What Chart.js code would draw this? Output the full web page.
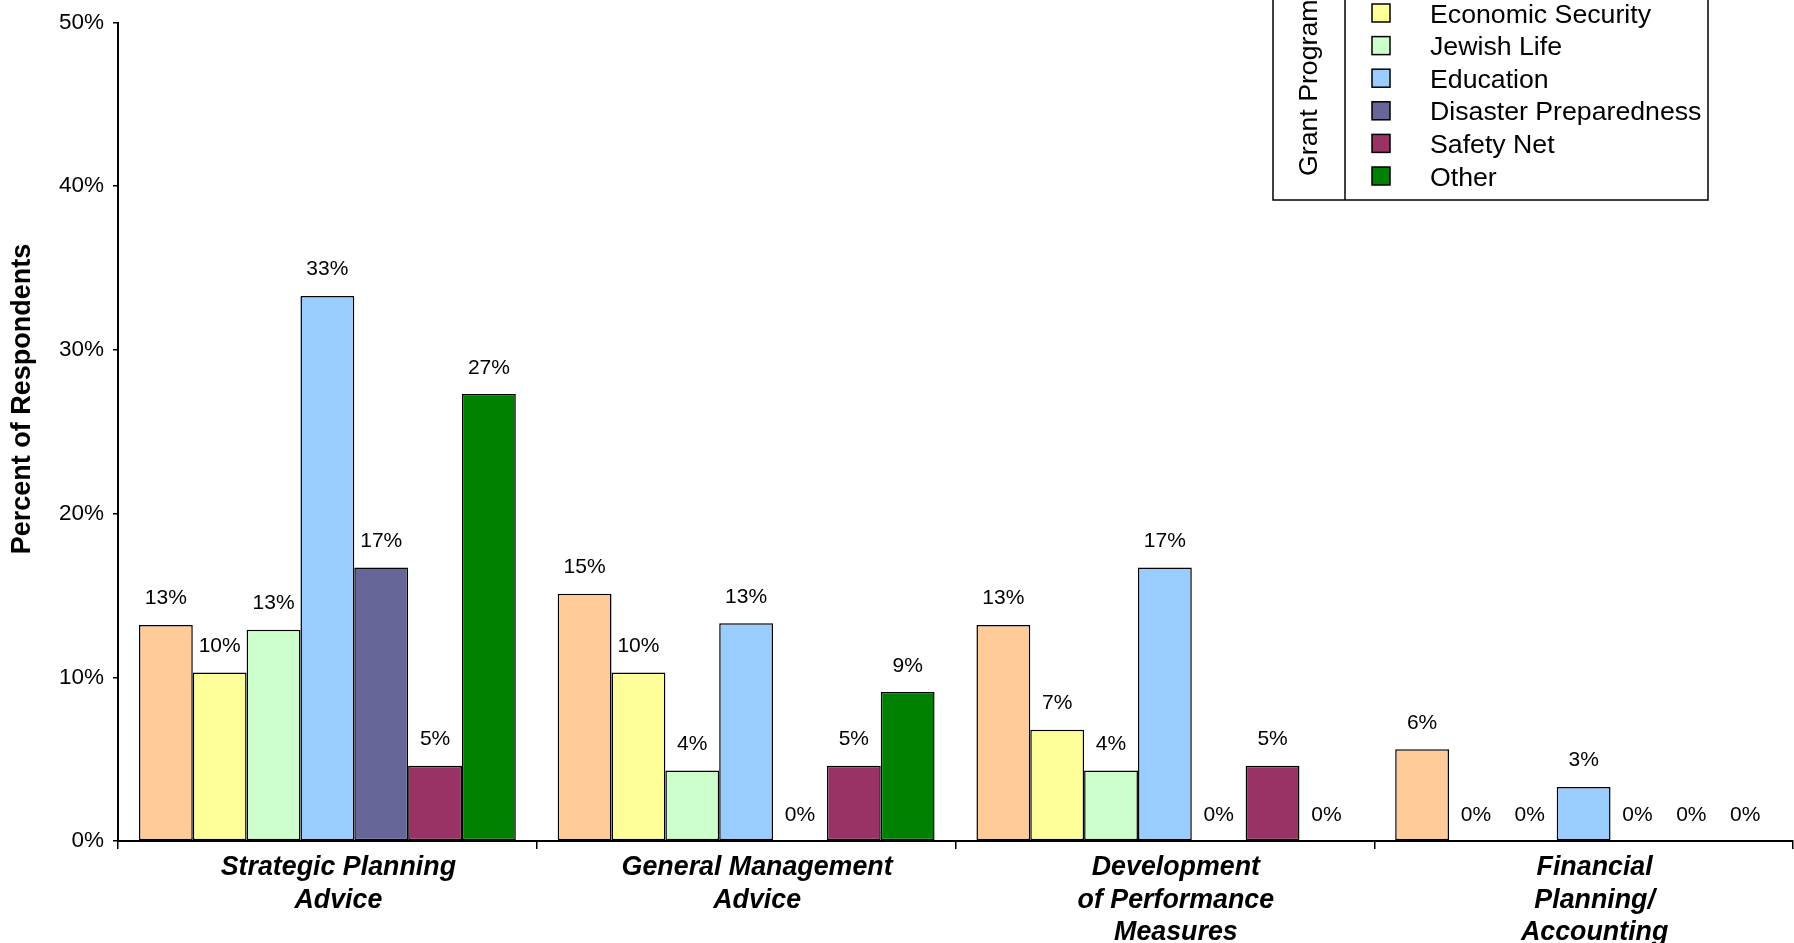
<!DOCTYPE html>
<html>
<head>
<meta charset="utf-8">
<script src="https://cdn.jsdelivr.net/npm/chart.js@4/dist/chart.umd.min.js"></script>
<style>
  html, body { margin: 0; padding: 0; background: #fff; overflow: hidden; }
  #wrap { width: 1794px; height: 943px; position: relative; }
</style>
</head>
<body>
<div id="wrap"><canvas id="grants"></canvas></div>
<script>
// categories along the x axis (multi-line labels)
var categories = [
  ['Strategic Planning', 'Advice'],
  ['General Management', 'Advice'],
  ['Development', 'of Performance', 'Measures'],
  ['Financial', 'Planning/', 'Accounting']
];

// grant program series (first legend row is cut off at the top of the picture)
var seriesNames = ['Health', 'Economic Security', 'Jewish Life', 'Education', 'Disaster Preparedness', 'Safety Net', 'Other'];
var seriesColors = ['#FFCC99', '#FFFF99', '#CCFFCC', '#99CCFF', '#666699', '#993366', '#008000'];

// percent of respondents, one array per series
var health     = [13.2, 15.1, 13.2, 5.6];
var economic   = [10.3, 10.3, 6.8, 0];
var jewishLife = [12.9, 4.3, 4.3, 0];
var education  = [33.3, 13.3, 16.7, 3.3];
var disaster   = [16.7, 0, 0, 0];
var safetyNet  = [4.6, 4.6, 4.6, 0];
var other      = [27.3, 9.1, 0, 0];
var seriesValues = [health, economic, jewishLife, education, disaster, safetyNet, other];

var yTicks = [0, 10, 20, 30, 40, 50];

var FONT = '"Liberation Sans", Arial, Helvetica, sans-serif';

var datasets = seriesNames.map(function (name, i) {
  return {
    label: name,
    data: seriesValues[i],
    backgroundColor: seriesColors[i],
    borderColor: '#000',
    borderWidth: function (c) { return c.raw === 0 ? 0 : 1.5; },
    borderSkipped: false,
    categoryPercentage: 0.9,
    barPercentage: 1.0
  };
});

// value labels above every bar
var valueLabels = {
  id: 'valueLabels',
  afterDatasetsDraw: function (chart) {
    var ctx = chart.ctx;
    ctx.save();
    ctx.font = '21px ' + FONT;
    ctx.fillStyle = '#000';
    ctx.textAlign = 'center';
    ctx.textBaseline = 'alphabetic';
    chart.data.datasets.forEach(function (ds, i) {
      chart.getDatasetMeta(i).data.forEach(function (bar, j) {
        ctx.fillText(Math.round(ds.data[j]) + '%', bar.x, bar.y - 20.5);
      });
    });
    ctx.restore();
  }
};

// y title and boxed legend
var extras = {
  id: 'extras',
  afterDraw: function (chart) {
    var ctx = chart.ctx;
    ctx.save();
    ctx.fillStyle = '#000';
    ctx.font = 'bold 27px ' + FONT;
    ctx.textAlign = 'center';
    ctx.textBaseline = 'middle';
    ctx.translate(23, 399);
    ctx.rotate(-Math.PI / 2);
    ctx.fillText('Percent of Respondents', 0, 0);
    ctx.restore();

    ctx.save();
    ctx.strokeStyle = '#000';
    ctx.lineWidth = 1.5;
    ctx.fillStyle = '#fff';
    ctx.fillRect(1273, -60, 435, 260);
    ctx.strokeRect(1273, -60, 435, 260);
    ctx.beginPath();
    ctx.moveTo(1345, -60);
    ctx.lineTo(1345, 200);
    ctx.stroke();

    ctx.fillStyle = '#000';
    ctx.font = '26.7px ' + FONT;
    ctx.textAlign = 'left';
    ctx.textBaseline = 'alphabetic';
    ctx.save();
    ctx.translate(1317, 176);
    ctx.rotate(-Math.PI / 2);
    ctx.fillText('Grant Program', 0, 0);
    ctx.restore();

    var rowH = 32.6;
    var firstY = 13 - rowH;
    chart.data.datasets.forEach(function (ds, i) {
      var cy = firstY + i * rowH;
      ctx.fillStyle = ds.backgroundColor;
      ctx.fillRect(1372, cy - 9, 18, 18);
      ctx.strokeRect(1372, cy - 9, 18, 18);
      ctx.fillStyle = '#000';
      ctx.fillText(ds.label, 1430, cy + 9.5);
    });
    ctx.restore();
  }
};

var config = {
  type: 'bar',
  data: { labels: categories, datasets: datasets },
  options: {
    responsive: true,
    maintainAspectRatio: false,
    animation: false,
    layout: { padding: { top: 19, right: 1, left: 0, bottom: 0 } },
    plugins: {
      legend: { display: false },
      tooltip: { enabled: false }
    },
    scales: {
      x: {
        offset: true,
        grid: { display: true, drawOnChartArea: false, offset: true, color: '#000', lineWidth: 1.5, tickLength: 8 },
        border: { display: true, color: '#000', width: 2 },
        ticks: {
          color: '#000',
          padding: 3,
          labelOffset: 11,
          maxRotation: 0,
          autoSkip: false,
          font: { family: FONT, size: 26.8, weight: 'bold', style: 'italic', lineHeight: 1.2 }
        },
        afterFit: function (scale) { scale.height = 102; }
      },
      y: {
        min: 0,
        max: 50,
        afterBuildTicks: function (scale) {
          scale.ticks = yTicks.map(function (v) { return { value: v }; });
        },
        grid: { display: true, drawOnChartArea: false, color: '#000', lineWidth: 1.5, tickLength: 5 },
        border: { display: true, color: '#000', width: 2 },
        ticks: {
          color: '#000',
          padding: 9,
          font: { family: FONT, size: 22.5 },
          callback: function (v) { return v + '%'; }
        },
        afterFit: function (scale) { scale.width = 118; }
      }
    }
  },
  plugins: [valueLabels, extras]
};

window.onload = function () {
  var ctx = document.getElementById('grants').getContext('2d');
  window.grantChart = new Chart(ctx, config);
};
</script>
</body>
</html>
